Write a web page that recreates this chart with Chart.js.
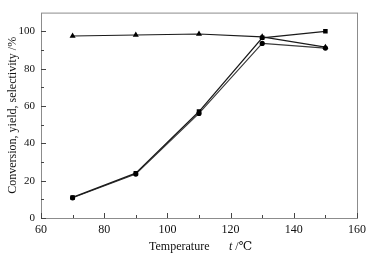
<!DOCTYPE html>
<html>
<head>
<meta charset="utf-8">
<script src="https://cdn.jsdelivr.net/npm/chart.js@4/dist/chart.umd.min.js"></script>
<style>
  html, body { margin: 0; padding: 0; background: #fff; }
  #wrap { width: 375px; height: 257px; position: relative; }
</style>
</head>
<body>
<div id="wrap"><canvas id="chart"></canvas></div>
<script>
// data
const temperatures = [70, 90, 110, 130, 150];
const conversion = [11, 24, 57, 96.5, 100];      // squares
const yieldValues = [10.8, 23.5, 56, 93.5, 91];  // circles
const selectivity = [97.5, 98, 98.5, 97, 91.5];  // triangles
const xMajorTicks = [60, 80, 100, 120, 140, 160];
const xMinorTicks = [70, 90, 110, 130, 150];
const yMajorTicks = [0, 20, 40, 60, 80, 100];
const yMinorTicks = [10, 30, 50, 70, 90];

const serif = '"Liberation Serif", "DejaVu Serif", serif';
const lineColor = '#1a1a1a';

function toPoints(values) {
  return temperatures.map((t, i) => ({ x: t, y: values[i] }));
}

// frame, inward ticks and the x title with an italic t
const framePlugin = {
  id: 'frame',
  afterDraw(chart) {
    const ctx = chart.ctx;
    const area = chart.chartArea;
    const xs = chart.scales.x;
    const ys = chart.scales.y;
    ctx.save();
    ctx.strokeStyle = '#8c8c8c';
    ctx.lineWidth = 1;
    ctx.strokeRect(area.left + 0.5, area.top + 0.5, area.right - area.left, area.bottom - area.top);

    ctx.strokeStyle = '#444';
    ctx.beginPath();
    xMajorTicks.forEach(v => {
      const px = Math.round(xs.getPixelForValue(v)) + 0.5;
      ctx.moveTo(px, area.bottom);
      ctx.lineTo(px, area.bottom - 5);
    });
    xMinorTicks.forEach(v => {
      const px = Math.round(xs.getPixelForValue(v)) + 0.5;
      ctx.moveTo(px, area.bottom);
      ctx.lineTo(px, area.bottom - 3);
    });
    yMajorTicks.forEach(v => {
      const py = Math.round(ys.getPixelForValue(v)) + 0.5;
      ctx.moveTo(area.left, py);
      ctx.lineTo(area.left + 5, py);
    });
    yMinorTicks.forEach(v => {
      const py = Math.round(ys.getPixelForValue(v)) + 0.5;
      ctx.moveTo(area.left, py);
      ctx.lineTo(area.left + 3, py);
    });
    ctx.stroke();

    ctx.fillStyle = '#111';
    ctx.textBaseline = 'middle';
    ctx.textAlign = 'left';
    ctx.font = '12px ' + serif;
    ctx.fillText('Temperature', 149, 247);
    ctx.font = 'italic 12px ' + serif;
    ctx.fillText('t', 229, 247);
    const tw = ctx.measureText('t').width;
    ctx.font = '12px ' + serif;
    ctx.fillText(' /℃', 229 + tw, 247);
    ctx.restore();
  }
};

new Chart(document.getElementById('chart'), {
  type: 'line',
  data: {
    datasets: [
      {
        label: 'Conversion',
        data: toPoints(conversion),
        borderColor: lineColor,
        backgroundColor: '#000',
        borderWidth: 1.3,
        pointStyle: 'rect',
        pointRadius: 3.2,
        pointBorderWidth: 0
      },
      {
        label: 'Yield',
        data: toPoints(yieldValues),
        borderColor: '#3a3a3a',
        backgroundColor: '#000',
        borderWidth: 1.1,
        pointStyle: 'circle',
        pointRadius: 2.6,
        pointBorderWidth: 0
      },
      {
        label: 'Selectivity',
        data: toPoints(selectivity),
        borderColor: lineColor,
        backgroundColor: '#000',
        borderWidth: 1.1,
        pointStyle: 'triangle',
        pointRadius: 3.5,
        pointBorderWidth: 0
      }
    ]
  },
  options: {
    responsive: true,
    maintainAspectRatio: false,
    animation: false,
    layout: { padding: { top: 11, right: 18, left: 0, bottom: 0 } },
    plugins: {
      legend: { display: false },
      tooltip: { enabled: false }
    },
    scales: {
      x: {
        type: 'linear',
        min: 60,
        max: 160,
        afterBuildTicks: scale => { scale.ticks = xMajorTicks.map(v => ({ value: v })); },
        afterFit: scale => { scale.height = 39; },
        grid: { display: false, drawTicks: false },
        border: { display: false },
        ticks: {
          padding: 5,
          color: '#111',
          font: { family: serif, size: 12 }
        }
      },
      y: {
        min: 0,
        max: 110,
        afterBuildTicks: scale => { scale.ticks = yMajorTicks.map(v => ({ value: v })); },
        afterFit: scale => { scale.width = 41; },
        grid: { display: false, drawTicks: false },
        border: { display: false },
        ticks: {
          padding: 6,
          color: '#111',
          font: { family: serif, size: 11 }
        },
        title: {
          display: true,
          text: 'Conversion, yield, selectivity /%',
          color: '#111',
          padding: { top: 6, bottom: 0 },
          font: { family: serif, size: 12 }
        }
      }
    }
  },
  plugins: [framePlugin]
});
</script>
</body>
</html>
